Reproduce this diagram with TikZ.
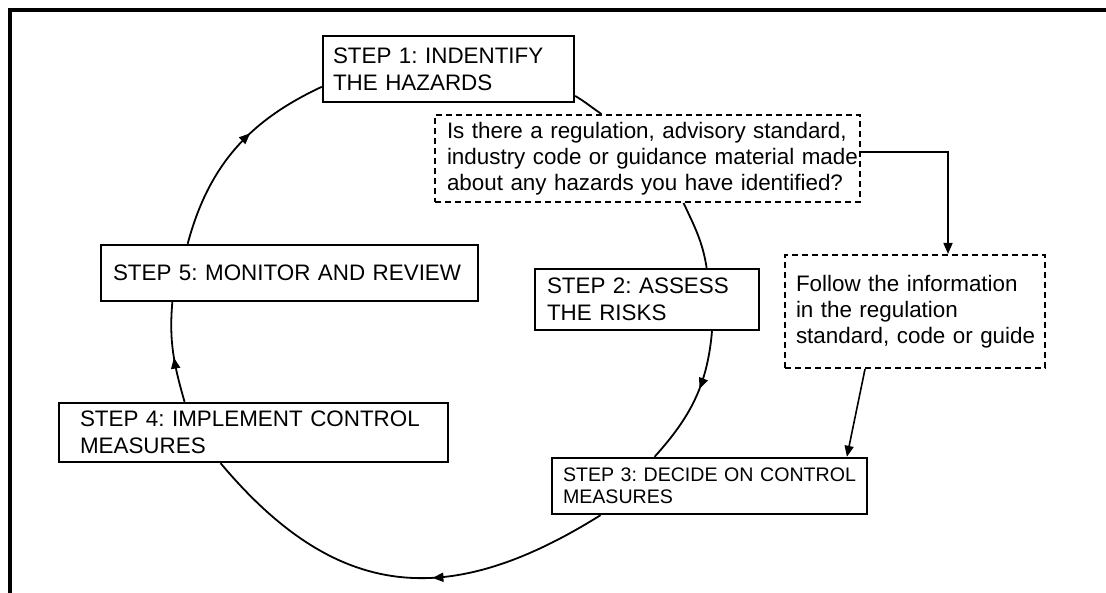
\documentclass[tikz,border=0pt]{standalone}
\usepackage{fontspec}
\setmainfont{Liberation Sans}
\usetikzlibrary{arrows.meta}
\usetikzlibrary{decorations.markings}

\begin{document}
\begin{tikzpicture}[x=0.5pt, y=0.5pt,
  stepbox/.style={draw, line width=1.2pt, fill=white, align=left, inner ysep=0pt, font=\fontsize{11.2}{13.5}\selectfont\frenchspacing},
  notebox/.style={draw, line width=1pt, dash pattern=on 3pt off 2pt, fill=white, align=left, inner ysep=0pt, font=\fontsize{11.2}{13}\selectfont\frenchspacing},
  ring/.style={line width=0.9pt},
  midarrow/.style={postaction={decorate}, decoration={markings, mark=at position #1 with {\arrow{Triangle[length=5.5pt,width=4.5pt]}}}},
  link/.style={line width=0.8pt, -{Triangle[length=5.5pt,width=4.5pt]}}]
  \useasboundingbox (0,0) rectangle (1106,593);
  \draw[line width=2pt] (10,0) -- (10,583) -- (1106,583);

  \node[stepbox, text width=115.5pt, inner xsep=5pt, minimum height=33pt] (s1) at (448.5,524) {\mbox{STEP 1: INDENTIFY}\\THE HAZARDS};
  \node[stepbox, text width=100pt, inner xsep=6pt, minimum height=30.5pt] (s2) at (647,293.5) {\mbox{STEP 2: ASSESS}\\THE RISKS};
  \node[stepbox, text width=146.5pt, inner xsep=5.5pt, minimum height=28pt, font=\fontsize{9.8}{11}\selectfont\frenchspacing] (s3) at (709.5,107) {\mbox{STEP 3: DECIDE ON CONTROL}\\MEASURES};
  \node[stepbox, text width=173.5pt, inner xsep=10.5pt, minimum height=29.5pt] (s4) at (253.5,160.5) {\mbox{STEP 4: IMPLEMENT CONTROL}\\MEASURES};
  \node[stepbox, text width=176.5pt, inner xsep=6pt, minimum height=28pt] (s5) at (289.5,320) {\mbox{STEP 5: MONITOR AND REVIEW}};

  \node[notebox, text width=200.5pt, inner xsep=6pt, minimum height=43.5pt] (q) at (647.5,434.5) {\mbox{Is there a regulation, advisory standard,}\\\mbox{industry code or guidance material made}\\\mbox{about any hazards you have identified?}};
  \node[notebox, text width=119pt, inner xsep=5.5pt, minimum height=56.5pt] (f) at (915,281.5) {\mbox{Follow the information}\\\mbox{in the regulation}\\\mbox{standard, code or guide}};

  % the cycle
  \draw[ring] (s1.-12.5) to[out=-31, in=146] (q.136);
  \draw[ring] (q.-51.4) to[out=-65, in=99] (s2.28.6);
  \draw[ring, midarrow=.42] (s2.-26.6) to[out=-95, in=48] (s3.152.8);
  \draw[ring, midarrow=.42] (s3.-165.7) to[out=-148, in=-50, looseness=1.2] (s4.223);
  \draw[ring, midarrow=.45] (s4.156) to[out=106, in=-95] (s5.194);
  \draw[ring, midarrow=.6] (s5.164.6) to[out=75, in=205] (s1.188.2);

  \draw[link] ([yshift=3.25pt]q.east) -| ([xshift=16.5pt]f.north);
  \draw[link] (f.-131.5) -- (s3.12.4);
\end{tikzpicture}
\end{document}
